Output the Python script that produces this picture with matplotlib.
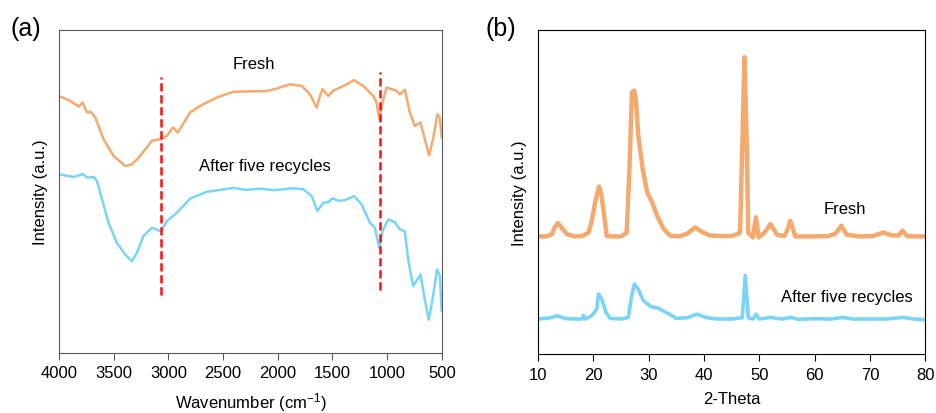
import matplotlib.pyplot as plt

plt.rcParams['font.family'] = ['Liberation Sans', 'DejaVu Sans']
plt.rcParams['mathtext.fontset'] = 'custom'
plt.rcParams['mathtext.rm'] = 'Liberation Sans'
plt.rcParams['mathtext.it'] = 'Liberation Sans:italic'

orange = '#F4AA6E'
blue = '#79D4F7'

# (a) FTIR, wavenumber (cm-1) and intensity (a.u.)
ftir_fresh_x = [4000, 3897, 3820, 3784, 3744, 3708, 3668, 3592, 3501, 3394, 3333,
                3257, 3151, 3069, 3014, 2959, 2913, 2877, 2801, 2710, 2557, 2405,
                2101, 2009, 1888, 1781, 1705, 1644, 1614, 1590, 1538, 1492, 1431,
                1370, 1303, 1218, 1127, 1096, 1072, 1042, 1005, 914, 884, 838, 792,
                747, 695, 655, 616, 580, 540, 518, 500]
ftir_fresh_y = [79.6, 78.1, 76.3, 77.6, 74.5, 74.7, 72.9, 66.2, 61.0, 57.9, 58.4,
                61.0, 65.7, 66.2, 67.2, 69.8, 68.3, 70.3, 74.5, 76.5, 79.1, 80.9,
                81.1, 81.9, 83.2, 82.7, 80.1, 76.0, 79.6, 81.7, 79.6, 81.2, 82.2,
                83.2, 84.5, 82.7, 79.6, 77.6, 72.4, 77.6, 82.2, 81.2, 80.1, 81.5, 74.5,
                70.3, 71.4, 66.2, 61.2, 66.2, 73.9, 72.9, 66.7]

ftir_used_x = [4000, 3866, 3784, 3738, 3683, 3653, 3607, 3547, 3471, 3394, 3333,
               3288, 3227, 3151, 3069, 3014, 2923, 2801, 2649, 2405, 2284, 2162,
               2040, 1857, 1766, 1690, 1638, 1583, 1538, 1498, 1446, 1385, 1303,
               1233, 1157, 1112, 1072, 1042, 990, 929, 884, 838, 808, 762, 695,
               655, 619, 580, 543, 518, 500]
ftir_used_y = [55.3, 54.5, 55.4, 54.3, 54.5, 53.3, 47.6, 40.3, 34.1, 30.5, 28.4,
               31.0, 36.2, 38.8, 37.7, 40.8, 43.4, 47.8, 49.9, 51.1, 50.5, 50.9,
               50.4, 51.0, 50.7, 48.6, 44.0, 46.5, 46.7, 47.9, 47.1, 47.3, 48.6,
               46.0, 40.3, 38.8, 32.6, 37.7, 41.4, 40.5, 38.3, 37.7, 29.0, 20.7, 24.3,
               16.5, 10.3, 17.6, 25.9, 23.8, 12.9]

marker_wn = [3069, 1066]
marker_lo = [18.1, 19.4]
marker_hi = [85.6, 86.9]

# (b) XRD, 2-theta and intensity (a.u.)
xrd_fresh_x = [10.0, 11.5, 12.5, 13.0, 13.56, 14.3, 15.2, 16.5, 18.0, 19.1, 19.7,
               20.3, 21.0, 21.4, 21.8, 22.4, 23.5, 25.0, 26.0, 26.5, 26.95, 27.4,
               27.7, 28.1, 28.9, 29.7, 30.6, 31.5, 32.7, 33.9, 35.5, 37.0, 38.4,
               39.5, 41.0, 43.0, 45.0, 46.5, 46.95, 47.3, 47.7, 48.0, 48.8, 49.4,
               49.85, 51.0, 52.0, 53.2, 54.5, 55.0, 55.6, 56.5, 58.0, 60.0, 62.5,
               63.8, 64.8, 65.8, 68.0, 70.5, 72.45, 74.0, 75.2, 75.9, 76.7, 78.0,
               80.0]
xrd_fresh_y = [36.3, 36.3, 37.0, 39.2, 40.4, 38.8, 37.0, 36.3, 36.4, 37.5, 41.0,
               46.8, 51.7, 49.5, 44.5, 36.4, 36.3, 36.3, 37.5, 57.1, 80.8, 81.3,
               77.7, 67.4, 57.1, 49.9, 46.8, 42.7, 38.6, 36.5, 36.3, 37.2, 39.1,
               37.8, 36.6, 36.4, 36.4, 37.4, 66.4, 91.6, 66.4, 37.4, 36.0, 42.2,
               36.0, 37.6, 40.1, 36.8, 36.4, 38.0, 41.1, 36.3, 36.3, 36.3, 36.4,
               37.2, 39.6, 36.8, 36.3, 36.4, 37.5, 36.6, 36.6, 38.1, 36.4, 36.3,
               36.3]

xrd_used_x = [10.0, 12.0, 13.5, 15.0, 17.0, 17.9, 18.2, 18.5, 19.5, 20.2, 20.6,
              20.9, 21.2, 21.5, 22.25, 23.0, 25.0, 26.3, 26.9, 27.4, 28.1, 29.0,
              30.3, 31.8, 33.6, 35.0, 37.0, 38.7, 40.5, 42.5, 45.0, 46.9, 47.45,
              48.0, 48.9, 49.4, 50.0, 52.0, 54.0, 55.8, 57.0, 60.0, 63.0, 65.0,
              67.0, 70.0, 73.0, 76.0, 78.0, 80.0]
xrd_used_y = [10.8, 11.1, 11.8, 10.9, 10.8, 10.8, 11.9, 10.8, 11.6, 12.9, 14.0,
              18.5, 17.6, 17.0, 12.9, 11.0, 10.8, 11.3, 18.0, 21.6, 20.0, 16.5,
              14.7, 14.1, 12.4, 11.0, 11.2, 12.3, 11.2, 10.8, 10.8, 11.2, 24.2,
              11.2, 10.8, 12.3, 10.8, 11.3, 10.8, 11.3, 10.7, 10.9, 10.8, 11.3,
              10.8, 10.8, 10.8, 11.3, 10.8, 10.6]

fig = plt.figure(figsize=(9.36, 4.14), dpi=100)
ax1 = fig.add_axes([0.063, 0.145, 0.409, 0.780])
ax2 = fig.add_axes([0.575, 0.1425, 0.4135, 0.7826])

# panel (a)
ax1.plot(ftir_fresh_x, ftir_fresh_y, color=orange, lw=1.8)
ax1.plot(ftir_used_x, ftir_used_y, color=blue, lw=1.8)
for wn, lo, hi in zip(marker_wn, marker_lo, marker_hi):
    ax1.plot([wn, wn], [lo, hi], color='#FF1010', lw=1.8,
             linestyle=(0, (3.3, 1.5)))
ax1.set_xlim(4000, 500)
ax1.set_ylim(0, 100)
ax1.set_xticks(range(4000, 499, -500))
ax1.set_yticks([])
ax1.set_xlabel('Wavenumber (cm$^{-1}$)', fontsize=12, labelpad=7)
ax1.set_ylabel('Intensity (a.u.)', fontsize=12, labelpad=8)
ax1.text(2218, 89.7, 'Fresh', fontsize=12, ha='center', va='center')
ax1.text(2117, 57.9, 'After five recycles', fontsize=12, ha='center', va='center')
for s in ax1.spines.values():
    s.set_color('#5a5a5a')
ax1.tick_params(axis='x', labelsize=12, length=5, color='#5a5a5a', pad=4)

# panel (b)
ax2.plot(xrd_fresh_x, xrd_fresh_y, color=orange, lw=3.2)
ax2.plot(xrd_used_x, xrd_used_y, color=blue, lw=2.6)
ax2.set_xlim(10, 80)
ax2.set_ylim(0, 100)
ax2.set_xticks(range(10, 81, 10))
ax2.set_yticks([])
ax2.set_xlabel('2-Theta', fontsize=12, labelpad=7)
ax2.set_ylabel('Intensity (a.u.)', fontsize=12, labelpad=8)
ax2.text(65.5, 45.0, 'Fresh', fontsize=12, ha='center', va='center')
ax2.text(65.8, 17.6, 'After five recycles', fontsize=12, ha='center', va='center')
ax2.tick_params(axis='x', labelsize=12, length=5, pad=4)

fig.text(0.011, 0.93, '(a)', fontsize=18, ha='left', va='center')
fig.text(0.519, 0.93, '(b)', fontsize=18, ha='left', va='center')

fig.savefig('out.png', dpi=100)
